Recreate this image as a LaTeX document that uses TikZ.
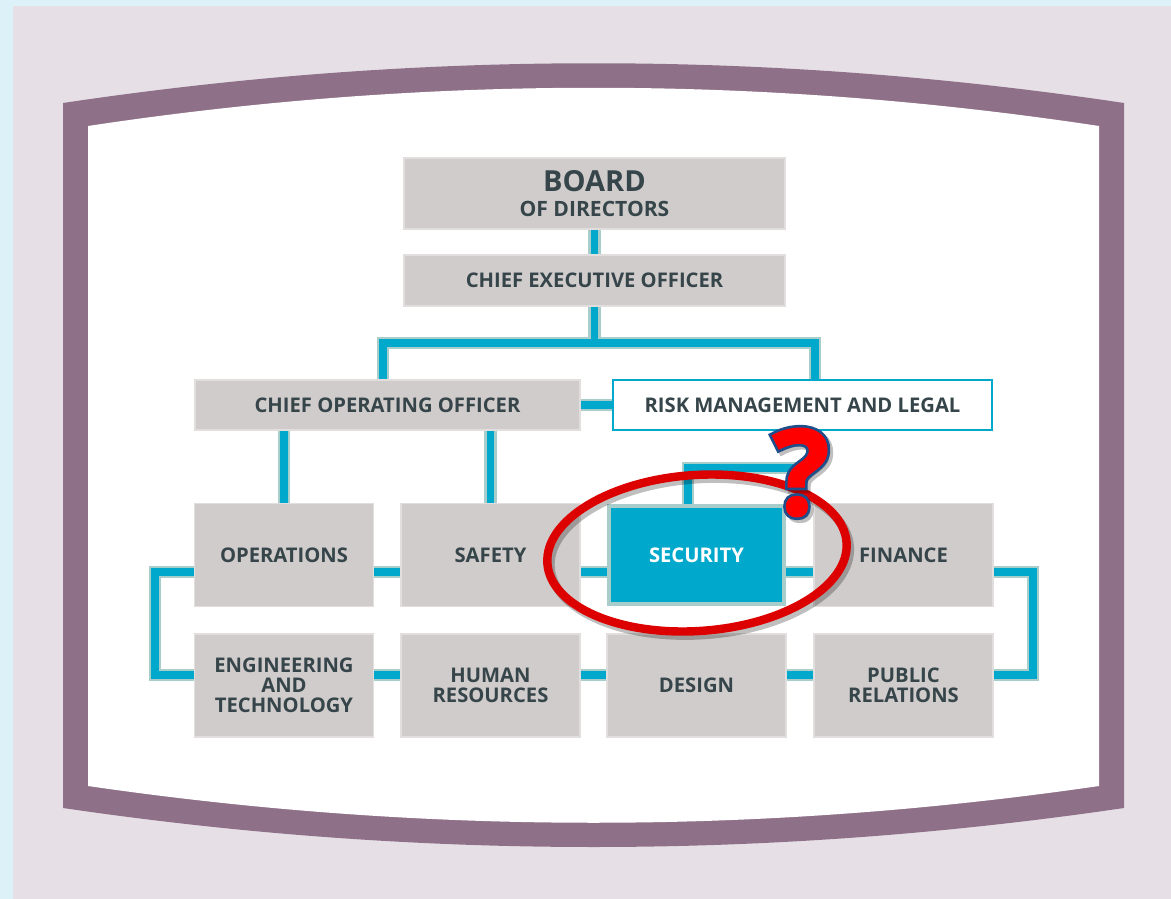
\documentclass[tikz,border=0pt]{standalone}
\usepackage{fontspec}
\setmainfont{Open Sans}
\newfontfamily\qfont[FakeBold=6]{Open Sans}
\newfontfamily\qfontplain[FakeBold=1.5]{Open Sans}
\usepackage{xcolor}

\definecolor{bgblue}{HTML}{DCF1F8}
\definecolor{bglav}{HTML}{E6E0E6}
\definecolor{frame}{HTML}{8F7089}
\definecolor{boxgrey}{HTML}{D1CCCC}
\definecolor{boxedge}{HTML}{E2DEDE}
\definecolor{cblue}{HTML}{00A9CC}
\definecolor{halo}{HTML}{A9CDCB}
\definecolor{ink}{HTML}{36454A}
\definecolor{alarm}{HTML}{DD0000}
\definecolor{qred}{HTML}{FF0000}
\definecolor{qedge}{HTML}{1F4E8C}

\begin{document}
\begin{tikzpicture}
  [
    x=0.02cm, y=-0.02cm,
    box/.style      = {fill = boxgrey, draw = boxedge, line width = 0.6pt, inner sep = 0pt,
                       minimum width = 3.58cm, minimum height = 2.06cm, align = center,
                       text = ink, font = \fontsize{11.5}{11.5}\selectfont\bfseries},
    wire/.style     = {draw = cblue, line width = 4.5pt},
    halowire/.style = {draw = halo, line width = 7pt},
  ]

%Size of one pixel of the reference
\def \pxu{0.02cm}

%Background and frame
\fill[bgblue] (0,0) rectangle (1171,899);
\fill[bglav] (13,6) rectangle (1171,899);
\fill[frame] (63,103) .. controls (417,50) and (770,50) .. (1124,103) -- (1124,808)
  .. controls (770,860) and (417,860) .. (63,808) -- cycle;
\fill[white] (88,126) .. controls (425,75) and (762,75) .. (1099,126) -- (1099,786)
  .. controls (762,835) and (425,835) .. (88,786) -- cycle;

%Top of the chart
\node[box, minimum width = 381*\pxu, minimum height = 71*\pxu] (board) at (594.5,193.5)
  {{\fontsize{16.5}{14}\selectfont BOARD}\\[3pt]{\fontsize{12}{12}\selectfont OF DIRECTORS}};
\node[box, minimum width = 381*\pxu, minimum height = 51*\pxu] (ceo) at (594.5,280.5) {CHIEF EXECUTIVE OFFICER};
\node[box, minimum width = 385*\pxu, minimum height = 50*\pxu] (coo) at (387.5,405) {CHIEF OPERATING OFFICER};
\node[box, fill = white, draw = cblue, line width = 1.7pt,
      minimum width = 379*\pxu, minimum height = 50*\pxu] (risk) at (802.5,405) {RISK MANAGEMENT AND LEGAL};

%Two rows of departments
\node[box] (ops)      at (284,555)   {OPERATIONS};
\node[box] (safety)   at (490.5,555) {SAFETY};
\node[box, fill = cblue, draw = halo, line width = 2pt, text = white,
      minimum width = 175*\pxu, minimum height = 98*\pxu] (security) at (696.5,555) {SECURITY};
\node[box] (finance)  at (903.5,555) {FINANCE};

\node[box] (eng)      at (284,685.5)   {ENGINEERING\\AND\\TECHNOLOGY};
\node[box] (hr)       at (490.5,685.5) {HUMAN\\RESOURCES};
\node[box] (design)   at (696.5,685.5) {DESIGN};
\node[box] (pr)       at (903.5,685.5) {PUBLIC\\RELATIONS};

%Helper points for the connectors
\coordinate (jl) at (383,343);
\coordinate (jr) at (815,343);
\coordinate (r3) at (0,572);
\coordinate (r4) at (0,675);
\coordinate (lb) at (155,0);
\coordinate (rb) at (1033,0);
\coordinate (sq) at (688,468);
\coordinate (sqe) at (800,468);

%Connectors, pale edge first and blue on top
\foreach \w in {halowire,wire}
{
\draw[\w] (board) -- (ceo);
\draw[\w] (ceo.south) -- (ceo.south |- jl);
\draw[\w] (coo.north -| jl) -- (jl) -- (jr) -- (risk.north -| jr);
\draw[\w] (coo) -- (risk);
\draw[\w] (coo.south -| ops.north) -- (ops.north);
\draw[\w] (coo.south -| safety.north) -- (safety.north);
\draw[\w] (security.north -| sq) -- (sq) -- (sqe);
\draw[\w] (ops.east |- r3) -- (safety.west |- r3);
\draw[\w] (safety.east |- r3) -- (security.west |- r3);
\draw[\w] (security.east |- r3) -- (finance.west |- r3);
\draw[\w] (eng.east |- r4) -- (hr.west |- r4);
\draw[\w] (hr.east |- r4) -- (design.west |- r4);
\draw[\w] (design.east |- r4) -- (pr.west |- r4);
\draw[\w] (ops.west |- r3) -| (lb |- r4) -- (eng.west |- r4);
\draw[\w] (finance.east |- r3) -| (rb |- r4) -- (pr.east |- r4);
}

%Red mark round security
\draw[black, opacity = 0.25, line width = 5pt] (700,557) ellipse [x radius = 3cm, y radius = 1.56cm, rotate = 4];
\draw[alarm, line width = 4.8pt] (697,553) ellipse [x radius = 3cm, y radius = 1.56cm, rotate = 4];

%Question mark
\node[anchor = base, text = black, opacity = 0.25, inner sep = 0pt, font = \qfont\bfseries\fontsize{68}{68}\selectfont] (qshade) at (804,518) {?};
\node[anchor = base, text = qedge, inner sep = 0pt, font = \qfont\bfseries\fontsize{68}{68}\selectfont] (qback) at (801,515) {?};
\node[anchor = base, text = qred, inner sep = 0pt, font = \qfontplain\bfseries\fontsize{68}{68}\selectfont] (qfront) at (801,515) {?};

\end{tikzpicture}
\end{document}
